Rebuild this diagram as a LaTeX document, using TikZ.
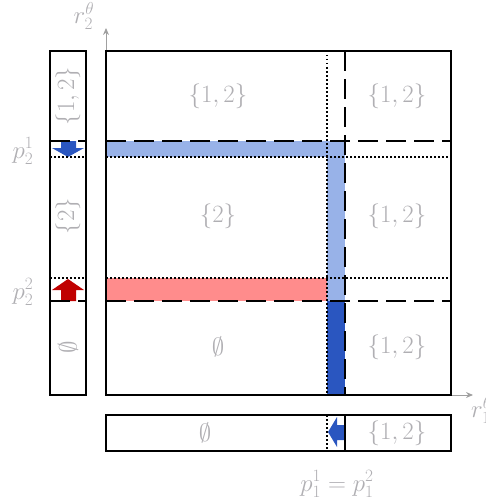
\documentclass[tikz,border=0pt]{standalone}
\usetikzlibrary{arrows.meta}
\definecolor{lblue}{HTML}{98B2E8}
\definecolor{dblue}{HTML}{2A56C0}
\definecolor{lred}{HTML}{FF8C8C}
\definecolor{dred}{HTML}{C00000}
\definecolor{txt}{HTML}{B0AFB3}
\definecolor{axc}{HTML}{A0A0A0}
\begin{document}
\begin{tikzpicture}[x=1pt,y=-1pt,
  lab/.style={text=txt,font=\fontsize{24}{28}\selectfont,inner sep=0pt},
  dsh/.style={line width=1.8pt,dash pattern=on 20pt off 8pt},
  dtt/.style={line width=1.6pt,dash pattern=on 1.5pt off 2.5pt},
  box/.style={draw,line width=1.3pt},
  axis/.style={draw=axc,line width=1pt,-{Stealth[length=7pt,width=6pt]}}]
\useasboundingbox (0,0) rectangle (486,503);
% coordinates
\coordinate (O) at (106,395);
\coordinate (MTR) at (451,51);
% axes
\draw[axis] (O) -- (106,28);
\draw[axis] (O) -- (473,395);
\node[lab] (ry) at (84,16) {$r_2^\theta$};
\node[lab,anchor=west] (rx) at (471,410) {$r_1^\theta$};
% bands
\fill[lblue] (106,141) rectangle (345,157);
\fill[lblue] (327,141) rectangle (345,301);
\fill[lred] (106,278) rectangle (327,301);
\fill[dblue] (327,301) rectangle (345,395);
% arrows in strips
\fill[dblue] (61,141) -- (76,141) -- (76,148) -- (84,148) -- (68,157) -- (52,148) -- (61,148) -- cycle;
\fill[dred] (68,279) -- (84,290) -- (76,290) -- (76,301) -- (61,301) -- (61,290) -- (52,290) -- cycle;
\fill[dblue] (328,432) -- (337,417) -- (337,425) -- (345,425) -- (345,440) -- (337,440) -- (337,447) -- cycle;
% lines main
\draw[dsh] (106,141) -- (451,141);
\draw[dsh] (106,301) -- (451,301);
\draw[dtt] (106,157) -- (451,157);
\draw[dtt] (106,278) -- (451,278);
\draw[dsh] (345,51) -- (345,395);
\draw[dtt] (327,51) -- (327,395);
% left strip lines
\draw[dsh] (50,141) -- (86,141);
\draw[dsh] (50,301) -- (86,301);
\draw[dtt] (50,157) -- (86,157);
\draw[dtt] (50,278) -- (86,278);
% bottom strip lines
\draw[line width=1.8pt] (345,415) -- (345,451);
\draw[dtt] (327,415) -- (327,451);
% boxes
\draw[box] (O) rectangle (MTR);
\draw[box] (50,51) rectangle (86,395);
\draw[box] (106,415) rectangle (451,451);
% labels main
\node[lab] (a1) at (218,96) {$\{1,2\}$};
\node[lab] (a2) at (397,96) {$\{1,2\}$};
\node[lab] (b1) at (218,216) {$\{2\}$};
\node[lab] (b2) at (397,216) {$\{1,2\}$};
\node[lab] (c1) at (218,347) {$\emptyset$};
\node[lab] (c2) at (397,347) {$\{1,2\}$};
% bottom strip labels
\node[lab] (d1) at (205,433) {$\emptyset$};
\node[lab] (d2) at (397,433) {$\{1,2\}$};
% left strip labels
\node[lab,rotate=90] (e1) at (68,96) {$\{1,2\}$};
\node[lab,rotate=90] (e2) at (68,216) {$\{2\}$};
\node[lab,rotate=90] (e3) at (68,347) {$\emptyset$};
% threshold labels
\node[lab] (p21) at (23,151) {$p_2^1$};
\node[lab] (p22) at (23,292) {$p_2^2$};
\node[lab] (p1) at (337,484) {$p_1^1=p_1^2$};
\end{tikzpicture}
\end{document}
